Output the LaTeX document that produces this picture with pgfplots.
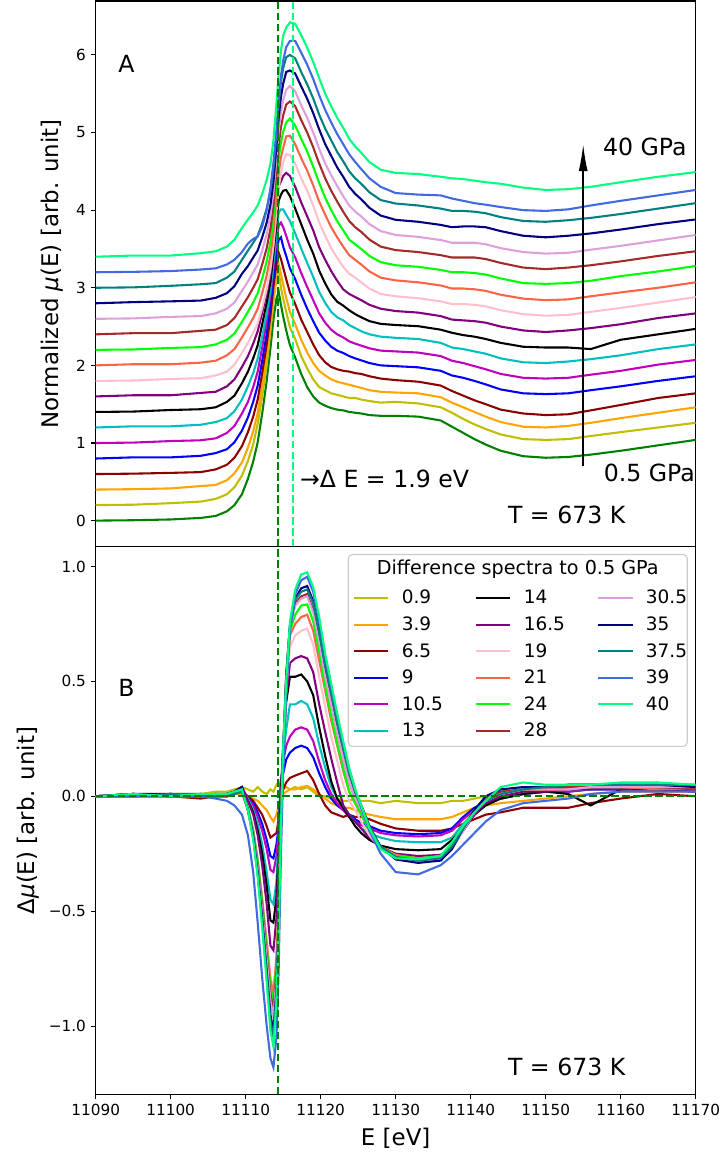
\documentclass[border=0pt]{standalone}
\usepackage{fontspec}
\setmainfont{DejaVu Sans}
\usepackage{pgfplots}
\pgfplotsset{compat=1.18}
\usepackage{pgfplotstable}
\usetikzlibrary{arrows.meta}

\definecolor{cgreen}{HTML}{008000}
\definecolor{colive}{HTML}{BFBF00}
\definecolor{corange}{HTML}{FFA500}
\definecolor{cdarkred}{HTML}{8B0000}
\definecolor{cblue}{HTML}{0000FF}
\definecolor{cmagenta}{HTML}{BF00BF}
\definecolor{ccyan}{HTML}{00BFBF}
\definecolor{cpurple}{HTML}{800080}
\definecolor{cpink}{HTML}{FFC0CB}
\definecolor{ctomato}{HTML}{FF6347}
\definecolor{clime}{HTML}{00FF00}
\definecolor{cbrown}{HTML}{A52A2A}
\definecolor{cplum}{HTML}{DDA0DD}
\definecolor{cnavy}{HTML}{000080}
\definecolor{cteal}{HTML}{008080}
\definecolor{croyal}{HTML}{4169E1}
\definecolor{cspring}{HTML}{00FF7F}

% b = spectrum at 0.5 GPa, pXXX = difference spectrum (pressure x 10) to 0.5 GPa
\pgfplotstableread{
E b p009 p039 p065 p090 p105 p130 p140 p165 p190 p210 p240 p280 p305 p350 p375 p390 p400
11090 0.000 0.00 0.00 0.00 0.00 0.00 0.00 0.00 0.00 0.00 0.00 0.00 0.00 0.00 0.00 0.00 0.00 0.00
11095 0.005 0.00 0.00 0.00 0.01 0.00 0.01 0.00 0.01 0.00 0.01 0.00 0.01 0.00 0.01 0.00 0.00 0.01
11100 0.015 0.01 0.00 0.00 0.00 0.01 0.00 0.01 0.00 0.01 0.00 0.01 0.00 0.01 0.01 0.01 0.00 0.00
11104 0.035 0.01 0.01 -0.01 0.00 0.00 0.00 0.00 0.01 0.00 0.00 0.00 0.01 0.00 0.00 0.01 0.00 0.01
11106 0.060 0.02 0.00 0.00 0.01 0.00 0.01 0.00 0.00 0.01 0.00 0.01 0.00 0.01 0.01 0.00 -0.01 0.01
11107.5 0.120 0.02 0.00 0.00 0.00 0.01 0.00 0.01 0.01 0.00 0.01 0.01 0.00 0.01 0.01 0.01 -0.02 0.01
11108.5 0.200 0.03 0.01 0.01 0.01 0.02 0.01 0.01 0.02 0.01 0.01 0.01 0.01 0.01 0.02 0.01 -0.04 0.02
11109.5 0.340 0.04 0.01 0.02 0.02 0.04 0.02 0.03 0.04 0.02 0.02 0.02 0.02 0.02 0.04 0.02 -0.08 0.03
11110.3 0.540 0.03 0.00 0.00 -0.01 -0.01 -0.01 -0.02 -0.02 -0.05 -0.05 -0.05 -0.06 -0.06 -0.06 -0.06 -0.17 -0.06
11111 0.760 0.02 -0.01 -0.02 -0.03 -0.04 -0.06 -0.07 -0.08 -0.14 -0.15 -0.15 -0.16 -0.16 -0.17 -0.18 -0.33 -0.19
11111.6 1.010 0.04 -0.02 -0.05 -0.07 -0.09 -0.12 -0.15 -0.17 -0.27 -0.28 -0.28 -0.30 -0.31 -0.33 -0.34 -0.55 -0.35
11112.2 1.380 0.02 -0.04 -0.08 -0.12 -0.15 -0.21 -0.25 -0.30 -0.44 -0.45 -0.46 -0.48 -0.50 -0.53 -0.55 -0.79 -0.57
11112.8 1.800 0.01 -0.06 -0.13 -0.19 -0.23 -0.33 -0.39 -0.47 -0.62 -0.64 -0.66 -0.69 -0.71 -0.76 -0.78 -1.00 -0.81
11113.3 2.220 0.03 -0.09 -0.18 -0.26 -0.32 -0.45 -0.54 -0.65 -0.78 -0.80 -0.83 -0.86 -0.89 -0.95 -0.98 -1.14 -1.02
11113.7 2.590 0.02 -0.11 -0.17 -0.27 -0.33 -0.47 -0.55 -0.67 -0.84 -0.86 -0.89 -0.93 -0.96 -1.025 -1.05 -1.18 -1.09
11114.1 2.860 0.05 -0.08 -0.16 -0.21 -0.26 -0.37 -0.44 -0.53 -0.69 -0.71 -0.73 -0.76 -0.79 -0.84 -0.86 -1.05 -0.89
11114.4 2.950 0.06 -0.04 -0.10 -0.13 -0.15 -0.18 -0.23 -0.24 -0.46 -0.47 -0.49 -0.51 -0.53 -0.56 -0.58 -0.75 -0.60
11114.7 2.780 0.02 0.00 -0.01 0.07 0.06 0.03 0.02 -0.01 -0.10 -0.10 -0.11 -0.11 -0.12 -0.12 -0.13 -0.25 -0.13
11115 2.630 0.03 0.01 0.03 0.10 0.15 0.18 0.22 0.21 0.19 0.17 0.18 0.19 0.19 0.20 0.20 0.10 0.22
11115.4 2.450 0.04 0.02 0.06 0.16 0.22 0.29 0.41 0.43 0.47 0.50 0.48 0.51 0.50 0.53 0.52 0.45 0.50
11115.9 2.260 0.03 0.03 0.08 0.19 0.26 0.40 0.52 0.58 0.65 0.70 0.72 0.74 0.74 0.74 0.74 0.72 0.76
11116.6 2.100 0.04 0.03 0.09 0.21 0.29 0.40 0.52 0.60 0.70 0.75 0.79 0.84 0.83 0.86 0.855 0.88 0.90
11117.4 1.890 0.03 0.04 0.10 0.22 0.30 0.415 0.53 0.61 0.72 0.78 0.83 0.87 0.86 0.905 0.89 0.94 0.965
11118.2 1.720 0.04 0.045 0.11 0.21 0.29 0.40 0.50 0.60 0.73 0.79 0.835 0.88 0.87 0.915 0.90 0.955 0.974
11119 1.600 0.02 0.03 0.07 0.17 0.24 0.34 0.44 0.54 0.66 0.72 0.76 0.81 0.80 0.85 0.84 0.89 0.91
11119.8 1.520 0.00 0.01 0.01 0.10 0.15 0.225 0.30 0.40 0.52 0.59 0.63 0.68 0.67 0.72 0.71 0.76 0.78
11120.6 1.480 0.00 -0.01 -0.04 0.04 0.07 0.125 0.175 0.28 0.39 0.46 0.48 0.53 0.52 0.57 0.57 0.61 0.62
11121.4 1.450 -0.01 -0.03 -0.07 -0.01 0.01 0.04 0.065 0.165 0.26 0.33 0.35 0.40 0.40 0.45 0.45 0.48 0.49
11122.2 1.430 -0.01 -0.04 -0.08 -0.04 -0.03 -0.01 -0.01 0.06 0.155 0.22 0.23 0.28 0.28 0.32 0.32 0.35 0.36
11123 1.420 -0.02 -0.05 -0.09 -0.06 -0.06 -0.04 -0.05 -0.04 0.05 0.11 0.12 0.16 0.16 0.21 0.21 0.23 0.24
11123.8 1.400 -0.02 -0.05 -0.08 -0.08 -0.09 -0.08 -0.09 -0.08 -0.02 0.02 0.02 0.06 0.06 0.10 0.10 0.12 0.12
11124.6 1.390 -0.01 -0.06 -0.09 -0.10 -0.11 -0.11 -0.13 -0.11 -0.06 -0.03 -0.03 -0.01 -0.01 0.02 0.02 0.03 0.03
11125.4 1.380 -0.02 -0.07 -0.09 -0.115 -0.125 -0.14 -0.16 -0.14 -0.11 -0.08 -0.08 -0.06 -0.06 -0.04 -0.04 -0.05 -0.04
11126.5 1.360 -0.02 -0.08 -0.10 -0.13 -0.14 -0.16 -0.19 -0.18 -0.17 -0.15 -0.15 -0.14 -0.14 -0.13 -0.13 -0.15 -0.14
11128 1.350 -0.03 -0.09 -0.12 -0.15 -0.16 -0.18 -0.215 -0.22 -0.23 -0.22 -0.22 -0.22 -0.22 -0.22 -0.22 -0.25 -0.23
11130 1.350 -0.02 -0.10 -0.14 -0.16 -0.17 -0.195 -0.23 -0.25 -0.26 -0.255 -0.26 -0.265 -0.27 -0.275 -0.265 -0.33 -0.27
11133 1.340 -0.03 -0.10 -0.15 -0.165 -0.175 -0.20 -0.235 -0.26 -0.275 -0.27 -0.27 -0.28 -0.285 -0.29 -0.28 -0.34 -0.275
11136 1.290 -0.03 -0.10 -0.15 -0.16 -0.17 -0.20 -0.23 -0.255 -0.265 -0.26 -0.26 -0.27 -0.275 -0.28 -0.27 -0.30 -0.26
11137.5 1.210 -0.02 -0.09 -0.14 -0.14 -0.15 -0.18 -0.19 -0.22 -0.22 -0.22 -0.21 -0.22 -0.23 -0.23 -0.22 -0.26 -0.20
11139 1.130 -0.02 -0.07 -0.12 -0.09 -0.10 -0.12 -0.14 -0.15 -0.14 -0.14 -0.13 -0.14 -0.15 -0.14 -0.14 -0.21 -0.13
11140.5 1.050 -0.01 -0.05 -0.10 -0.05 -0.06 -0.07 -0.08 -0.08 -0.07 -0.07 -0.06 -0.06 -0.07 -0.06 -0.07 -0.16 -0.07
11142 0.980 0.00 -0.04 -0.08 -0.025 -0.03 -0.03 -0.04 -0.03 -0.02 -0.02 -0.01 -0.01 -0.02 0.00 -0.02 -0.11 -0.02
11144 0.900 0.01 -0.03 -0.07 -0.01 -0.01 -0.01 -0.01 0.00 0.01 0.01 0.02 0.02 0.01 0.03 0.01 -0.06 0.04
11147 0.830 0.02 -0.02 -0.05 0.01 0.01 0.01 0.01 0.02 0.03 0.03 0.03 0.03 0.03 0.04 0.03 -0.03 0.06
11150 0.810 0.03 -0.01 -0.05 0.02 0.02 0.02 0.02 0.02 0.03 0.03 0.04 0.03 0.03 0.04 0.04 -0.02 0.05
11153 0.820 0.03 0.00 -0.05 0.02 0.02 0.03 0.01 0.03 0.03 0.03 0.04 0.04 0.03 0.05 0.05 -0.01 0.05
11156 0.850 0.04 0.01 -0.03 0.03 0.03 0.03 -0.04 0.03 0.04 0.04 0.04 0.04 0.04 0.05 0.05 0.01 0.05
11160 0.900 0.04 0.02 -0.01 0.03 0.03 0.03 0.03 0.03 0.04 0.04 0.05 0.04 0.04 0.05 0.05 0.02 0.06
11165 0.970 0.03 0.02 0.01 0.03 0.04 0.04 0.03 0.04 0.04 0.03 0.04 0.04 0.04 0.05 0.05 0.02 0.06
11170 1.040 0.02 0.02 0.00 0.02 0.03 0.03 0.03 0.03 0.04 0.03 0.04 0.03 0.04 0.04 0.05 0.02 0.05
}\spectra

% legend cells: image, gap, text
\newcommand{\la}[1]{\makebox[61.9pt][l]{\hspace*{8.9pt}#1}}
\newcommand{\lb}[1]{\makebox[40pt][l]{\hspace*{8.9pt}#1}}

\pgfplotsset{
  panel/.style={
    scale only axis, width=432pt, anchor=south west,
    xmin=11090, xmax=11170,
    scaled x ticks=false,
    axis line style={line width=0.8pt},
    tick align=outside, tick pos=left,
    major tick length=3.5pt,
    every tick/.style={black, line width=0.8pt},
    tick label style={font=\fontsize{11}{13}\selectfont},
    label style={font=\fontsize{16.5}{19}\selectfont},
    every axis plot/.append style={line width=1.5pt},
  },
  vdash/.style={cgreen, dash pattern=on 5.5pt off 2.4pt, forget plot},
}

\begin{document}
\begin{tikzpicture}
\path[use as bounding box] (0,0) rectangle (520.6pt,831.6pt);

% ---------------- panel A ----------------
\begin{axis}[panel, at={(68.9pt,437.8pt)}, height=393.1pt,
  ymin=-0.339, ymax=6.695,
  xtick=\empty,
  ytick={0,1,2,3,4,5,6}, yticklabels={0,1,2,3,4,5,6},
  ylabel={Normalized \textit{μ}(E) [arb. unit]},
  ylabel style={at={(axis description cs:-0.0729,0.5)}, anchor=center},
]
\addplot[cgreen]    table[x=E, y=b] {\spectra};
\addplot[colive]    table[x=E, y expr=\thisrow{b}+\thisrow{p009}+0.2] {\spectra};
\addplot[corange]   table[x=E, y expr=\thisrow{b}+\thisrow{p039}+0.4] {\spectra};
\addplot[cdarkred]  table[x=E, y expr=\thisrow{b}+\thisrow{p065}+0.6] {\spectra};
\addplot[cblue]     table[x=E, y expr=\thisrow{b}+\thisrow{p090}+0.8] {\spectra};
\addplot[cmagenta]  table[x=E, y expr=\thisrow{b}+\thisrow{p105}+1.0] {\spectra};
\addplot[ccyan]     table[x=E, y expr=\thisrow{b}+\thisrow{p130}+1.2] {\spectra};
\addplot[black]     table[x=E, y expr=\thisrow{b}+\thisrow{p140}+1.4] {\spectra};
\addplot[cpurple]   table[x=E, y expr=\thisrow{b}+\thisrow{p165}+1.6] {\spectra};
\addplot[cpink]     table[x=E, y expr=\thisrow{b}+\thisrow{p190}+1.8] {\spectra};
\addplot[ctomato]   table[x=E, y expr=\thisrow{b}+\thisrow{p210}+2.0] {\spectra};
\addplot[clime]     table[x=E, y expr=\thisrow{b}+\thisrow{p240}+2.2] {\spectra};
\addplot[cbrown]    table[x=E, y expr=\thisrow{b}+\thisrow{p280}+2.4] {\spectra};
\addplot[cplum]     table[x=E, y expr=\thisrow{b}+\thisrow{p305}+2.6] {\spectra};
\addplot[cnavy]     table[x=E, y expr=\thisrow{b}+\thisrow{p350}+2.8] {\spectra};
\addplot[cteal]     table[x=E, y expr=\thisrow{b}+\thisrow{p375}+3.0] {\spectra};
\addplot[croyal]    table[x=E, y expr=\thisrow{b}+\thisrow{p390}+3.2] {\spectra};
\addplot[cspring]   table[x=E, y expr=\thisrow{b}+\thisrow{p400}+3.4] {\spectra};
\addplot[vdash] coordinates {(11114.35,-0.339) (11114.35,6.695)};
\addplot[vdash, cspring] coordinates {(11116.35,-0.339) (11116.35,6.695)};
\draw[-{Latex[length=20pt,width=6.5pt]}, line width=1.5pt]
  (axis cs:11155,0.70) -- (axis cs:11155,4.86);
\node[font=\fontsize{17}{20}\selectfont] at (axis cs:11094.1,5.89) {A};
\node[anchor=west, font=\fontsize{17}{20}\selectfont] at (axis cs:11157.0,4.81) {40 GPa};
\node[anchor=west, font=\fontsize{17}{20}\selectfont] at (axis cs:11157.1,0.61) {0.5 GPa};
\node[anchor=west, font=\fontsize{17}{20}\selectfont] at (axis cs:11116.6,0.54) {→Δ E = 1.9 eV};
\node[font=\fontsize{17}{20}\selectfont] at (axis cs:11152.8,0.08) {T = 673 K};
\end{axis}

% ---------------- panel B ----------------
\begin{axis}[panel, at={(68.9pt,43.7pt)}, height=394.1pt,
  ymin=-1.297, ymax=1.085,
  xtick={11090,11100,...,11170},
  xticklabels={11090,11100,11110,11120,11130,11140,11150,11160,11170},
  ytick={-1,-0.5,0,0.5,1}, yticklabels={−1.0,−0.5,0.0,0.5,1.0},
  xlabel={E [eV]},
  xlabel style={at={(axis description cs:0.5,-0.0799)}, anchor=center},
  ylabel={Δ\textit{μ}(E) [arb. unit]},
  ylabel style={at={(axis description cs:-0.1128,0.5)}, anchor=center},
  legend columns=3,
  legend cell align=left,
  legend image code/.code={\draw[#1, line width=1.5pt] (0pt,0pt) -- (24.5pt,0pt);},
  legend style={draw=none, fill=none, inner sep=0pt, outer sep=0pt,
    at={(0.4293,0.9213)}, anchor=north west,
    row sep=7.65pt, column sep=0pt,
    nodes={inner sep=0pt, text height=10pt, text depth=1.5pt},
    font=\fontsize{13.3}{16}\selectfont},
]
\addplot[colive, forget plot]    table[x=E, y=p009] {\spectra};
\addplot[corange, forget plot]   table[x=E, y=p039] {\spectra};
\addplot[cdarkred, forget plot]  table[x=E, y=p065] {\spectra};
\addplot[cblue, forget plot]     table[x=E, y=p090] {\spectra};
\addplot[cmagenta, forget plot]  table[x=E, y=p105] {\spectra};
\addplot[ccyan, forget plot]     table[x=E, y=p130] {\spectra};
\addplot[black, forget plot]     table[x=E, y=p140] {\spectra};
\addplot[cpurple, forget plot]   table[x=E, y=p165] {\spectra};
\addplot[cpink, forget plot]     table[x=E, y=p190] {\spectra};
\addplot[ctomato, forget plot]   table[x=E, y=p210] {\spectra};
\addplot[clime, forget plot]     table[x=E, y=p240] {\spectra};
\addplot[cbrown, forget plot]    table[x=E, y=p280] {\spectra};
\addplot[cplum, forget plot]     table[x=E, y=p305] {\spectra};
\addplot[cnavy, forget plot]     table[x=E, y=p350] {\spectra};
\addplot[cteal, forget plot]     table[x=E, y=p375] {\spectra};
\addplot[croyal, forget plot]    table[x=E, y=p390] {\spectra};
\addplot[cspring, forget plot]   table[x=E, y=p400] {\spectra};
\addplot[vdash] coordinates {(11114.35,-1.297) (11114.35,1.085)};
\addplot[vdash] coordinates {(11090,0) (11170,0)};
\draw[black!20, line width=0.8pt, fill=white, rounded corners=3pt]
  (axis cs:11123.68,1.052) rectangle (axis cs:11168.88,0.217);
\node[font=\fontsize{13.8}{16}\selectfont] at (axis cs:11146.27,0.987) {Difference spectra to 0.5 GPa};
\node[font=\fontsize{17}{20}\selectfont] at (axis cs:11094.1,0.473) {B};
\node[font=\fontsize{17}{20}\selectfont] at (axis cs:11152.8,-1.178) {T = 673 K};
% legend, filled row by row so that it reads column by column
\addlegendimage{colive}   \addlegendentry{\la{0.9}}
\addlegendimage{black}    \addlegendentry{\la{14}}
\addlegendimage{cplum}    \addlegendentry{\lb{30.5}}
\addlegendimage{corange}  \addlegendentry{\la{3.9}}
\addlegendimage{cpurple}  \addlegendentry{\la{16.5}}
\addlegendimage{cnavy}    \addlegendentry{\lb{35}}
\addlegendimage{cdarkred} \addlegendentry{\la{6.5}}
\addlegendimage{cpink}    \addlegendentry{\la{19}}
\addlegendimage{cteal}    \addlegendentry{\lb{37.5}}
\addlegendimage{cblue}    \addlegendentry{\la{9}}
\addlegendimage{ctomato}  \addlegendentry{\la{21}}
\addlegendimage{croyal}   \addlegendentry{\lb{39}}
\addlegendimage{cmagenta} \addlegendentry{\la{10.5}}
\addlegendimage{clime}    \addlegendentry{\la{24}}
\addlegendimage{cspring}  \addlegendentry{\lb{40}}
\addlegendimage{ccyan}    \addlegendentry{\la{13}}
\addlegendimage{cbrown}   \addlegendentry{\la{28}}
\end{axis}
\end{tikzpicture}
\end{document}
